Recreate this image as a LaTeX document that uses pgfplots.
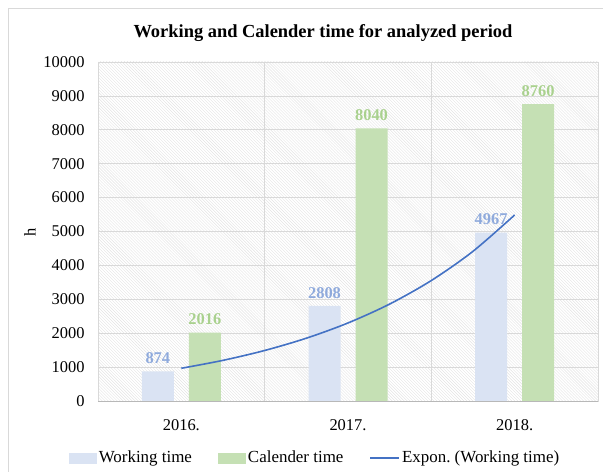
\documentclass[border=0pt]{standalone}
\usepackage{fontspec}
\setmainfont{Liberation Serif}
\usepackage{pgfplots}
\pgfplotsset{compat=1.18}
\usetikzlibrary{patterns}
\definecolor{workc}{HTML}{DAE3F3}
\definecolor{calc}{HTML}{C5E0B4}
\definecolor{worklab}{HTML}{8FAADC}
\definecolor{callab}{HTML}{A9D18E}
\definecolor{trend}{HTML}{4472C4}
\definecolor{gridc}{HTML}{D9D9D9}
\begin{document}
\begin{tikzpicture}[x=1bp,y=1bp]
\useasboundingbox (0,0) rectangle (603,472);
\draw[gridc, line width=0.75bp] (8.5,0) -- (8.5,463.5) -- (603,463.5);
\node[font=\fontsize{18.5}{22}\selectfont\bfseries] at (323,439) {Working and Calender time for analyzed period};
\node[rotate=90, font=\fontsize{16.5}{19}\selectfont] at (30,240) {h};
\begin{axis}[
 at={(98bp,71bp)}, anchor=south west, scale only axis, width=500bp, height=339bp,
 xmin=0.5, xmax=3.5, ymin=0, ymax=10000,
 ytick={0,1000,...,10000},
 xtick={1,2,3}, xticklabels={2016.,2017.,2018.},
 minor xtick={1.5,2.5},
 xminorgrids, ymajorgrids,
 grid style={gridc, line width=0.75bp},
 minor grid style={gridc, line width=0.75bp},
 major tick length=0pt, minor tick length=0pt,
 axis line style={gridc, line width=0.75bp},
 scaled y ticks=false,
 /pgf/number format/1000 sep={},
 /pgf/number format/assume math mode=true,
 tick label style={font=\fontsize{16.5}{19}\selectfont},
 yticklabel style={xshift=-10bp},
 xticklabel style={yshift=-15bp},
 axis background/.style={pattern=north west lines, pattern color=black!11},
 ybar=15bp, bar width=32bp,
 legend columns=-1,
 legend style={at={(0.434,-0.165)}, anchor=center, draw=none, fill=none,
   font=\fontsize{17}{20}\selectfont,
   /tikz/every even column/.append style={column sep=24bp}},
 clip=false,
]
\addplot[fill=workc, draw=none, nodes near coords,
  nodes near coords style={font=\fontsize{16.5}{19}\selectfont\bfseries, text=worklab, yshift=4bp},
  legend image code/.code={\fill[workc] (0bp,-7bp) rectangle (28bp,4bp);}]
  coordinates {(1,874) (2,2808) (3,4967)};
\addlegendentry{Working time}
\addplot[fill=calc, draw=none, nodes near coords,
  nodes near coords style={font=\fontsize{16.5}{19}\selectfont\bfseries, text=callab, yshift=4bp},
  legend image code/.code={\fill[calc] (0bp,-7bp) rectangle (28bp,4bp);}]
  coordinates {(1,2016) (2,8040) (3,8760)};
\addlegendentry{Calender time}
\addplot[smooth, trend, line width=1.6bp, mark=none,
  legend image code/.code={\draw[trend, line width=1.6bp] (0bp,-1bp) -- (29bp,-1bp);}]
  coordinates {(1,965) (1.25,1199) (1.5,1490) (1.75,1852) (2,2302) (2.25,2860) (2.5,3554) (2.75,4416) (3,5488)};
\addlegendentry{Expon.\ (Working time)}
\draw[black!28, line width=0.75bp] (rel axis cs:0,0) -- (rel axis cs:1,0);
\end{axis}
\end{tikzpicture}
\end{document}
